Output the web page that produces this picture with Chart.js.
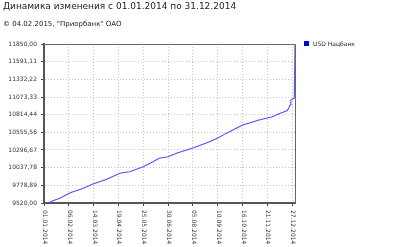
<!DOCTYPE html>
<html>
<head>
<meta charset="utf-8">
<script src="https://cdn.jsdelivr.net/npm/chart.js@4.4.1/dist/chart.umd.min.js"></script>
<style>
  body { margin: 0; background: #fff; font-family: "DejaVu Sans", Verdana, sans-serif; }
  #wrap { position: relative; width: 400px; height: 247px; }
  #title { position: absolute; left: 3px; top: 2px; font-size: 9px; line-height: 9px; color: #222; white-space: nowrap; }
  #sub { position: absolute; left: 3px; top: 21px; font-size: 7px; line-height: 7px; color: #222; white-space: nowrap; }
  #legend { position: absolute; left: 304px; top: 41px; font-size: 6px; line-height: 6px; color: #222; white-space: nowrap; }
  #legend span.box { display: inline-block; width: 5px; height: 5px; background: #0000e0; margin-right: 4px; vertical-align: top; }
  canvas { position: absolute; left: 0; top: 0; }
</style>
</head>
<body>
<div id="wrap">
  <canvas id="myChart" width="400" height="247"></canvas>
  <div id="title">Динамика изменения с 01.01.2014 по 31.12.2014</div>
  <div id="sub">© 04.02.2015, "Приорбанк" ОАО</div>
  <div id="legend"><span class="box"></span>USD Нацбанк</div>
</div>
<script>
// day of year (0 = 01.01.2014) and rate
const days = [0, 8, 13, 23, 38, 57, 71, 91, 110, 124, 144, 158, 167, 180, 192, 216, 240, 252, 264, 288, 312, 331, 341, 353, 357, 358, 362, 363, 364];
const rates = [9520, 9528, 9554, 9589, 9671, 9735, 9798, 9867, 9955, 9979, 10052, 10125, 10175, 10198, 10250, 10325, 10418, 10472, 10540, 10663, 10736, 10784, 10828, 10875, 10956, 11029, 11050, 11060, 11850];

const yTicks = [9520, 9778.89, 10037.78, 10296.67, 10555.56, 10814.44, 11073.33, 11332.22, 11591.11, 11850];
const xTickDays = [0, 36, 72, 108, 144, 180, 216, 252, 288, 324, 360];
const xTickLabels = ["01.01.2014", "06.02.2014", "14.03.2014", "19.04.2014", "25.05.2014", "30.06.2014",
  "05.08.2014", "10.09.2014", "16.10.2014", "21.11.2014", "27.12.2014"];

// rotated date labels + top/right frame
const extras = {
  id: "extras",
  afterDraw(chart) {
    const ctx = chart.ctx;
    const sx = chart.scales.x;
    const a = chart.chartArea;
    ctx.save();
    ctx.strokeStyle = "#666";
    ctx.lineWidth = 1;
    ctx.beginPath();
    ctx.moveTo(a.left, a.top + 0.5);
    ctx.lineTo(a.right + 0.5, a.top + 0.5);
    ctx.lineTo(a.right + 0.5, a.bottom);
    ctx.stroke();

    ctx.font = '6px "DejaVu Sans"';
    ctx.fillStyle = "#333";
    ctx.textAlign = "left";
    ctx.textBaseline = "middle";
    xTickDays.forEach((d, i) => {
      ctx.save();
      ctx.translate(Math.round(sx.getPixelForValue(d)) + 0.5, a.bottom + 7);
      ctx.rotate(Math.PI / 2);
      ctx.fillText(xTickLabels[i], 0, 0);
      ctx.restore();
    });
    ctx.restore();
  }
};

const ctx = document.getElementById("myChart");

new Chart(ctx, {
  type: "line",
  data: {
    datasets: [
      {
        label: "USD Нацбанк",
        data: days.map((d, i) => ({ x: d, y: rates[i] })),
        borderColor: "#5050ff",
        borderWidth: 1.1,
        pointRadius: 0,
        tension: 0,
      },
    ],
  },
  options: {
    responsive: false,
    animation: false,
    devicePixelRatio: 1,
    layout: { padding: { top: 44, right: 105, bottom: 0, left: 0 } },
    plugins: {
      legend: { display: false },
      tooltip: { enabled: false },
    },
    scales: {
      x: {
        type: "linear",
        min: 0,
        max: 364,
        afterBuildTicks: (s) => { s.ticks = xTickDays.map((v) => ({ value: v })); },
        afterFit: (s) => { s.height = 44; },
        ticks: { display: false },
        grid: { color: "#c4c4c4", tickColor: "#444", tickLength: 3 },
        border: { display: true, color: "#555", width: 2, dash: [1, 2] },
      },
      y: {
        min: 9520,
        max: 11850,
        afterBuildTicks: (s) => { s.ticks = yTicks.map((v) => ({ value: v })); },
        afterFit: (s) => { s.width = 44; },
        ticks: {
          font: { family: "DejaVu Sans", size: 6 },
          color: "#333",
          padding: 4,
          callback: (v, i) => yTicks[i].toFixed(2).replace(".", ","),
        },
        grid: { color: "#c4c4c4", tickColor: "#444", tickLength: 3 },
        border: { display: true, color: "#555", width: 2, dash: [1, 2] },
      },
    },
  },
  plugins: [extras],
});
</script>
</body>
</html>
